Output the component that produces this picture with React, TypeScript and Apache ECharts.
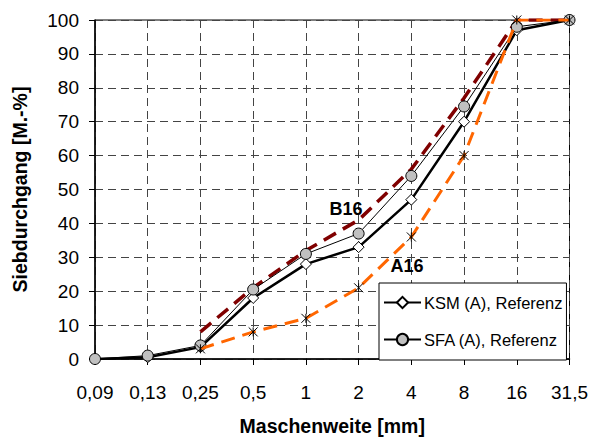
import React, { useEffect, useRef } from "react";
import * as echarts from "echarts";

const categories = ["0,09", "0,13", "0,25", "0,5", "1", "2", "4", "8", "16", "31,5"];
const ksm = [0, 0.5, 3.5, 18, 28, 33, 47, 70, 97, 100];
const sfa = [0, 1, 4, 20.5, 31, 37, 54, 74.5, 98, 100];
const b16: (number | string)[] = ["-", "-", 8, 21, 32, 41, 56, 77, 100, 100];
const a16: (number | string)[] = ["-", "-", 3, 8, 12, 21, 36, 60, 100, 100];
const yTicks = { min: 0, max: 100, interval: 10 };

const FONT = "'Liberation Sans', Arial, sans-serif";

export default function App() {
  const ref = useRef<HTMLDivElement>(null);
  useEffect(() => {
    if (!ref.current) return;
    const chart = echarts.init(ref.current, null, { renderer: "svg" });
    chart.setOption({
      animation: false,
      backgroundColor: "#ffffff",
      textStyle: { fontFamily: FONT },
      grid: {
        left: 95, right: 20, top: 20, bottom: 76,
        show: true, borderColor: "#000", borderWidth: 1, backgroundColor: "transparent",
      },
      legend: {
        data: ["KSM (A), Referenz", "SFA (A), Referenz"],
        orient: "vertical",
        left: 379, top: 283,
        padding: [11, 4, 12, 4],
        itemWidth: 37, itemHeight: 14, itemGap: 20,
        backgroundColor: "#fff",
        borderColor: "#000", borderWidth: 1,
        textStyle: { fontSize: 16.5, color: "#000", fontFamily: FONT, padding: [0, 0, 0, -2] },
      },
      xAxis: {
        type: "category",
        data: categories,
        boundaryGap: false,
        name: "Maschenweite [mm]",
        nameLocation: "middle",
        nameGap: 57,
        nameTextStyle: { fontSize: 19.5, fontWeight: "bold", color: "#000", fontFamily: FONT },
        axisLine: { lineStyle: { color: "#000", width: 1.5 } },
        axisTick: { show: true, interval: 0, length: 6, lineStyle: { color: "#000" } },
        axisLabel: { interval: 0, margin: 24, fontSize: 19, color: "#000", fontFamily: FONT },
        splitLine: { show: true, interval: 0, lineStyle: { color: "#444", type: [8, 5], width: 1 } },
      },
      yAxis: {
        type: "value",
        min: yTicks.min, max: yTicks.max, interval: yTicks.interval,
        name: "Siebdurchgang [M.-%]",
        nameLocation: "middle",
        nameGap: 65,
        nameTextStyle: { fontSize: 19.5, fontWeight: "bold", color: "#000", fontFamily: FONT },
        axisLine: { show: true, lineStyle: { color: "#000", width: 1.5 } },
        axisTick: { show: true, length: 6, lineStyle: { color: "#000" } },
        axisLabel: { margin: 16, fontSize: 19, color: "#000", fontFamily: FONT },
        splitLine: { show: true, lineStyle: { color: "#444", type: [8, 5], width: 1 } },
      },
      series: [
        {
          name: "B16", type: "line", data: b16, symbol: "none",
          lineStyle: { color: "#800000", width: 3.5, type: [14, 8] },
          itemStyle: { color: "#800000" },
          z: 2,
        },
        {
          name: "KSM (A), Referenz", type: "line", data: ksm,
          symbol: "diamond", symbolSize: 11,
          lineStyle: { color: "#000", width: 2.5 },
          itemStyle: { color: "#fff", borderColor: "#000", borderWidth: 1 },
          z: 3,
        },
        {
          name: "SFA (A), Referenz", type: "line", data: sfa,
          symbol: "circle", symbolSize: 11,
          lineStyle: { color: "#000", width: 1 },
          itemStyle: { color: "#c0c0c0", borderColor: "#000", borderWidth: 1 },
          z: 4,
        },
        {
          name: "A16", type: "line", data: a16,
          symbol: "path://M0,0L10,10M10,0L0,10M5,0L5,10", symbolSize: 9,
          lineStyle: { color: "#ff6600", width: 3, type: [14, 8] },
          itemStyle: { color: "none", borderColor: "#000", borderWidth: 1 },
          z: 5,
        },
      ],
      graphic: [
        { type: "text", x: 346, y: 209, style: { text: "B16", font: `bold 18px ${FONT}`, fill: "#000", textAlign: "center", textVerticalAlign: "middle" }, z: 10 },
        { type: "text", x: 407, y: 266, style: { text: "A16", font: `bold 18px ${FONT}`, fill: "#000", textAlign: "center", textVerticalAlign: "middle" }, z: 10 },
      ],
    });
    return () => chart.dispose();
  }, []);
  return <div ref={ref} style={{ width: 591, height: 441, position: "absolute", left: 0, top: 0 }} />;
}
